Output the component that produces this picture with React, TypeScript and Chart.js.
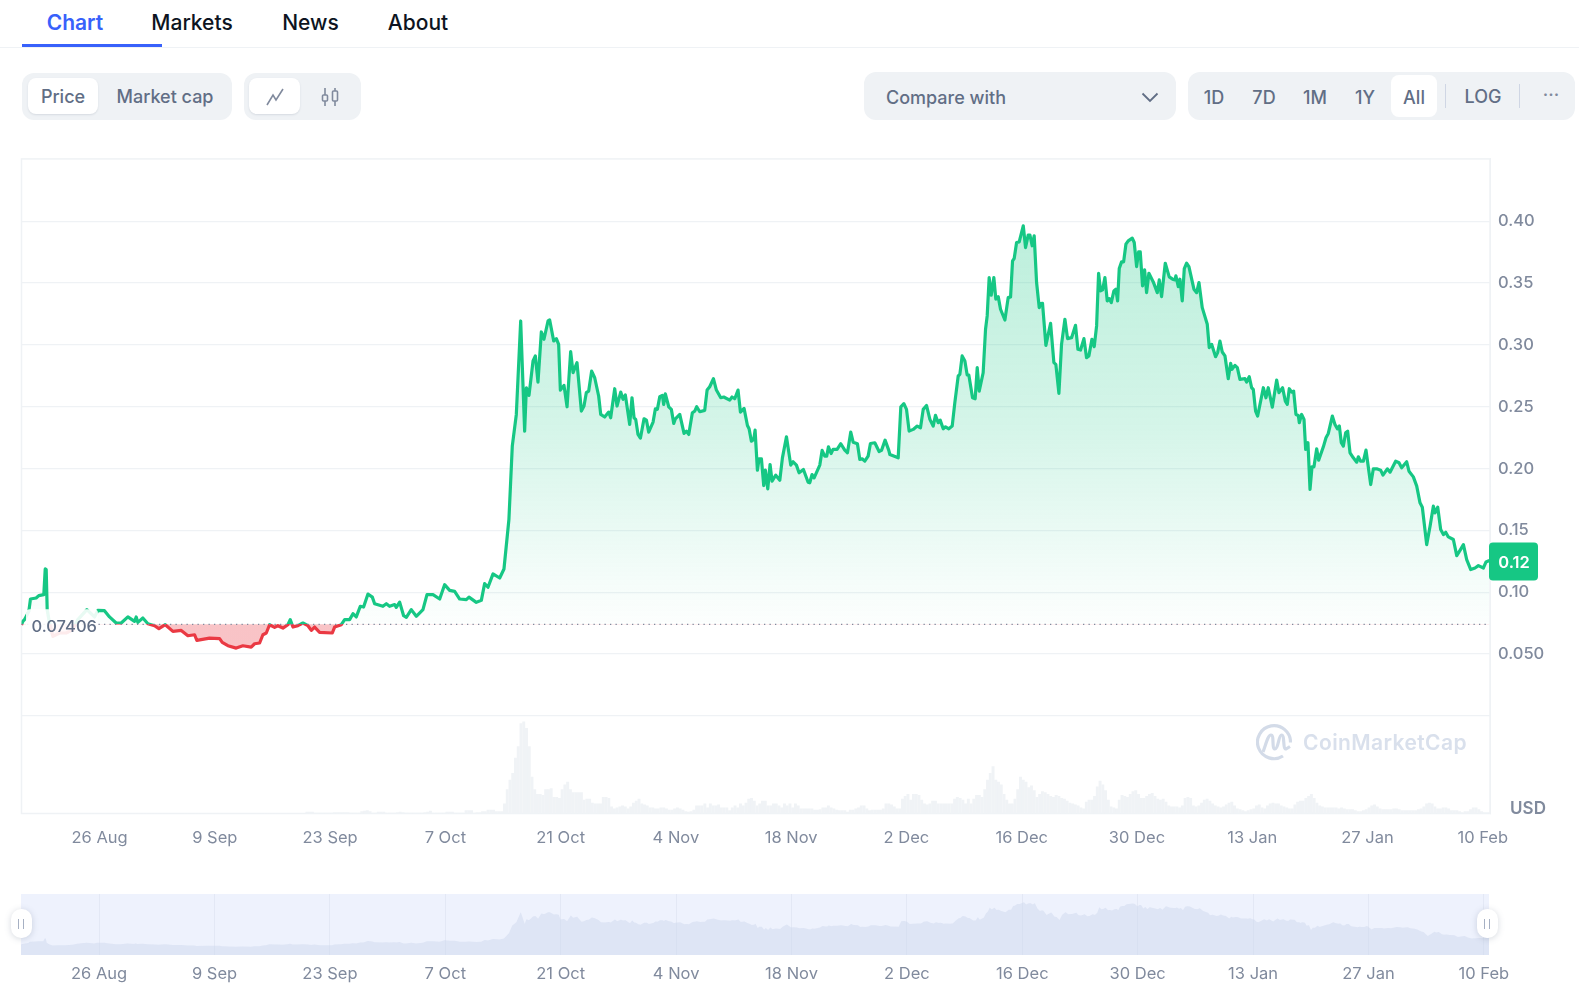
import React, { useEffect, useRef } from 'react';
import { Chart, registerables } from 'chart.js';

Chart.register(...registerables);

// days since 16 Aug, one entry for each price below
const priceDays = [
  0, 0.16, 0.36, 0.89, 1.09, 1.78, 2.1, 2.71, 2.88, 3.0, 3.12, 3.4, 3.81, 4.62, 5.43, 6.24, 6.84, 7.94, 8.87, 9.27,
  10.08, 10.69, 11.5, 12.11, 12.92, 13.73, 13.93, 14.13, 14.74, 15.35, 16.16, 16.69, 17.46, 18.39, 19.4, 20.21, 21.02, 21.3, 22.84, 24.06,
  24.38, 25.07, 26.08, 26.89, 27.9, 28.31, 28.92, 29.32, 29.73, 30.13, 30.74, 31.14, 31.75, 32.36, 32.64, 32.97, 33.57, 34.18, 34.79, 35.2,
  35.6, 36.21, 37.75, 38.03, 38.84, 39.25, 39.85, 40.26, 40.66, 41.15, 41.55, 42.08, 42.61, 42.89, 43.9, 44.31, 44.71, 45.32, 45.52, 45.93,
  46.41, 46.74, 47.34, 47.95, 48.76, 49.25, 49.98, 50.79, 51.39, 52.0, 52.61, 53.22, 54.03, 54.35, 55.24, 55.85, 56.25, 56.66, 57.27, 58.08,
  58.6, 59.2, 59.61, 60.1, 60.63, 61.11, 61.32, 61.64, 62.13, 62.41, 62.73, 63.14, 63.46, 63.95, 64.15, 64.64, 64.96, 65.24, 65.45, 65.89,
  66.26, 66.7, 66.99, 67.47, 68.0, 68.32, 68.6, 68.89, 69.25, 69.62, 70.1, 70.35, 70.83, 71.32, 71.56, 72.05, 72.33, 72.78, 73.06, 73.34,
  73.87, 74.15, 74.4, 74.6, 74.88, 75.17, 75.61, 75.9, 76.18, 76.71, 76.99, 77.23, 77.52, 77.84, 78.0, 78.2, 78.61, 78.93, 79.22, 79.42,
  79.95, 80.47, 80.76, 81.04, 81.48, 81.77, 82.01, 82.38, 82.98, 83.27, 83.59, 84.04, 84.4, 84.93, 85.29, 86.02, 86.3, 86.63, 87.03, 87.32,
  87.76, 88.17, 88.37, 88.65, 88.94, 89.1, 89.38, 89.58, 89.87, 90.15, 90.35, 90.64, 90.92, 91.16, 91.61, 92.1, 92.42, 92.91, 93.43, 93.72,
  94.12, 94.44, 94.97, 95.54, 95.74, 96.02, 96.27, 96.96, 97.24, 97.56, 97.8, 98.01, 98.33, 98.57, 99.06, 99.51, 99.99, 100.32, 100.72, 101.01,
  101.53, 101.82, 102.1, 102.42, 102.83, 103.11, 103.64, 104.16, 104.45, 104.89, 105.34, 105.47, 106.48, 106.8, 107.17, 107.49, 107.81, 108.3, 108.79, 109.19,
  109.52, 109.92, 110.33, 110.73, 111.01, 111.34, 111.58, 111.95, 112.23, 112.63, 113.04, 113.36, 113.77, 113.97, 114.25, 114.58, 114.86, 115.06, 115.51, 115.83,
  116.08, 116.32, 116.8, 117.09, 117.29, 117.53, 117.78, 118.1, 118.34, 118.63, 118.91, 119.44, 119.84, 120.13, 120.37, 120.57, 120.86, 121.18, 121.67, 121.95,
  122.27, 122.48, 122.76, 123.0, 123.29, 123.61, 123.77, 124.01, 124.42, 124.99, 125.39, 125.63, 126.0, 126.32, 126.73, 127.05, 127.54, 128.02, 128.31, 128.63,
  129.04, 129.36, 129.64, 130.01, 130.29, 130.58, 130.82, 131.06, 131.3, 131.59, 131.87, 132.11, 132.36, 132.68, 132.92, 133.13, 133.33, 133.61, 133.86, 134.14,
  134.42, 134.91, 135.15, 135.44, 135.68, 135.88, 136.16, 136.41, 136.65, 136.93, 137.46, 137.95, 138.19, 138.47, 138.92, 139.4, 139.81, 140.09, 140.21, 140.5,
  140.7, 140.98, 141.23, 141.51, 141.79, 142.4, 142.73, 143.01, 143.41, 144.02, 144.26, 144.55, 145.03, 145.28, 145.56, 145.84, 146.17, 146.57, 146.86, 147.02,
  147.38, 147.67, 147.99, 148.6, 148.8, 149.12, 149.41, 149.61, 149.89, 150.14, 150.83, 151.15, 151.43, 151.92, 152.45, 152.73, 153.17, 153.5, 153.74, 153.98,
  154.27, 154.51, 154.79, 155.08, 155.2, 155.48, 155.77, 155.97, 156.25, 156.5, 156.74, 156.98, 157.31, 157.55, 158.12, 158.44, 158.72, 159.21, 159.53, 159.82,
  160.06, 160.3, 160.55, 160.83, 161.07, 161.36, 161.76, 162.17, 162.37, 162.65, 162.98, 163.3, 163.87, 164.19, 164.6, 165.08, 165.36, 165.89, 166.22, 166.9,
  167.31, 167.63, 168.24, 168.52, 169.05, 169.46, 169.86, 170.14, 170.67, 171.08, 171.48, 171.68, 172.01, 172.37, 172.7, 172.98, 173.3, 173.91, 174.32, 174.72,
  175.13, 175.53, 176.02, 176.54, 176.95, 177.56, 177.88, 178.28,
];

const prices = [
  0.0735, 0.0764, 0.0778, 0.0845, 0.0945, 0.0953, 0.0972, 0.098, 0.1188, 0.1183, 0.0859, 0.0751, 0.0643, 0.067, 0.067, 0.0697, 0.0778, 0.0859, 0.08, 0.0853,
  0.0851, 0.08, 0.0751, 0.0751, 0.08, 0.0764, 0.08, 0.0756, 0.0791, 0.0745, 0.0729, 0.0705, 0.0737, 0.0683, 0.0691, 0.0648, 0.0656, 0.061, 0.0629, 0.0624,
  0.0594, 0.0567, 0.0548, 0.0567, 0.0556, 0.0583, 0.0589, 0.0656, 0.067, 0.0737, 0.0716, 0.0729, 0.071, 0.0737, 0.0778, 0.0718, 0.0729, 0.0751, 0.0729, 0.0691,
  0.0718, 0.0675, 0.067, 0.0718, 0.0737, 0.0778, 0.0778, 0.0826, 0.08, 0.0886, 0.088, 0.0985, 0.096, 0.0907, 0.0886, 0.0907, 0.0886, 0.09, 0.0877, 0.092,
  0.081, 0.0797, 0.0859, 0.0805, 0.0859, 0.098, 0.098, 0.0945, 0.1061, 0.1015, 0.1007, 0.0945, 0.094, 0.096, 0.0918, 0.0934, 0.1069, 0.104, 0.1148, 0.1115,
  0.1188, 0.1588, 0.2182, 0.2438, 0.3194, 0.2303, 0.2654, 0.2592, 0.287, 0.2911, 0.27, 0.3105, 0.3046, 0.3194, 0.3202, 0.3032, 0.3051, 0.3005, 0.2635, 0.2673,
  0.25, 0.2946, 0.2776, 0.2857, 0.2465, 0.2506, 0.2614, 0.2627, 0.2789, 0.2735, 0.2587, 0.2438, 0.2417, 0.2457, 0.2411, 0.2646, 0.2506, 0.2619, 0.256, 0.2595,
  0.2357, 0.2573, 0.2411, 0.2398, 0.2276, 0.2246, 0.2403, 0.2392, 0.2295, 0.2376, 0.2484, 0.2479, 0.2581, 0.2592, 0.2519, 0.2605, 0.25, 0.2479, 0.2365, 0.2403,
  0.2438, 0.2284, 0.2303, 0.2276, 0.2452, 0.2465, 0.25, 0.246, 0.2471, 0.2635, 0.2662, 0.2727, 0.2635, 0.2573, 0.2579, 0.2554, 0.2579, 0.2565, 0.2635, 0.2457,
  0.2487, 0.2349, 0.2322, 0.2222, 0.2236, 0.2311, 0.1987, 0.2079, 0.2079, 0.1863, 0.1987, 0.1836, 0.2033, 0.1898, 0.1947, 0.1906, 0.2087, 0.2257, 0.2028, 0.2055,
  0.2028, 0.1966, 0.1993, 0.189, 0.1885, 0.1952, 0.1925, 0.2028, 0.2147, 0.2101, 0.2101, 0.2176, 0.2122, 0.2155, 0.2155, 0.2201, 0.2149, 0.2128, 0.2295, 0.2214,
  0.2201, 0.2074, 0.2079, 0.206, 0.2101, 0.2203, 0.2209, 0.2138, 0.2147, 0.223, 0.2147, 0.2114, 0.2087, 0.25, 0.2525, 0.2479, 0.2303, 0.2317, 0.2344, 0.233,
  0.2479, 0.2511, 0.2398, 0.2344, 0.243, 0.2371, 0.2392, 0.2322, 0.2338, 0.2322, 0.2344, 0.2533, 0.2749, 0.2762, 0.2911, 0.287, 0.2757, 0.2757, 0.2573, 0.2565,
  0.2816, 0.2627, 0.2775, 0.3127, 0.3235, 0.3545, 0.3402, 0.3545, 0.337, 0.3391, 0.3289, 0.3202, 0.3383, 0.3389, 0.368, 0.3699, 0.3829, 0.3834, 0.3964, 0.3788,
  0.3888, 0.3888, 0.3802, 0.3883, 0.3505, 0.3302, 0.3334, 0.3337, 0.2997, 0.3175, 0.2857, 0.2843, 0.2608, 0.3005, 0.3208, 0.3051, 0.3059, 0.3159, 0.2965, 0.2959,
  0.3051, 0.2897, 0.2911, 0.3046, 0.2986, 0.3154, 0.358, 0.3437, 0.3445, 0.3545, 0.3356, 0.3375, 0.3343, 0.3437, 0.3451, 0.3356, 0.3618, 0.3672, 0.3672, 0.3815,
  0.3842, 0.3864, 0.3829, 0.3634, 0.3753, 0.3753, 0.3478, 0.3607, 0.3423, 0.358, 0.351, 0.3423, 0.3526, 0.3391, 0.3661, 0.3551, 0.3532, 0.3526, 0.3559, 0.3472,
  0.3532, 0.3356, 0.3618, 0.3661, 0.3634, 0.3451, 0.3423, 0.3505, 0.3302, 0.3167, 0.2978, 0.3005, 0.2905, 0.2938, 0.3032, 0.2943, 0.2911, 0.2727, 0.2851, 0.2803,
  0.2835, 0.2816, 0.2722, 0.2727, 0.27, 0.2743, 0.2654, 0.2641, 0.2465, 0.2425, 0.2654, 0.2573, 0.2654, 0.2497, 0.2716, 0.2614, 0.2654, 0.2546, 0.2519, 0.2646,
  0.2619, 0.2627, 0.2438, 0.243, 0.2371, 0.2438, 0.2398, 0.2155, 0.2209, 0.1831, 0.2014, 0.2014, 0.216, 0.2068, 0.2176, 0.2249, 0.2284, 0.2425, 0.2357, 0.2322,
  0.2344, 0.2209, 0.2182, 0.229, 0.2303, 0.2128, 0.2087, 0.2052, 0.2095, 0.206, 0.206, 0.2149, 0.1871, 0.1998, 0.1998, 0.1987, 0.1947, 0.1998, 0.1971, 0.206,
  0.2047, 0.2006, 0.2055, 0.1979, 0.1933, 0.1858, 0.1723, 0.1687, 0.1385, 0.1534, 0.1696, 0.1642, 0.1687, 0.1507, 0.1466, 0.1485, 0.1447, 0.1426, 0.1296, 0.1339,
  0.1385, 0.1264, 0.1183, 0.1196, 0.1215, 0.1196, 0.1245, 0.1256,
];

// one bar per 8 hours, in millions
const volumes = [
  0, 0, 0, 0, 0, 0, 0, 0, 0, 0, 0, 0, 0, 0, 0, 0, 0, 0, 0, 0, 0, 0, 0, 0, 0, 0, 0, 0, 0,
  0, 0, 0, 0, 0, 0, 0, 0, 0, 0, 0, 0, 0, 0, 0, 0, 0, 0, 0, 0, 0, 0, 0, 0, 0, 0, 0, 0, 0, 0,
  0, 0, 0, 0, 0, 0, 0, 0, 0, 0, 0, 0, 0, 0, 0, 0, 0, 0, 0, 0, 0, 0, 0, 0, 0, 0, 0, 0, 0, 0,
  0, 0, 0, 0, 0, 0, 0, 0, 0, 0, 0, 0, 0, 0, 0, 1.5, 1.5, 1.5, 0.5, 0.5, 0.5, 0.5, 0.5, 0.5, 0.5,
  1, 1, 1, 1, 1, 1, 0.5, 0.5, 0.5, 0.5, 2, 2.5, 3, 2, 0.5, 0.5, 1.5, 1.5, 1.5, 0.5, 0.5, 0.5, 0.5, 1, 1.5, 1,
  0.5, 0.5, 0.5, 0.5, 0.5, 0.5, 0.5, 1, 1.5, 2.5, 0.5, 0.5, 0.5, 0.5, 0.5, 1.5, 1.5, 1.5, 0.5, 0.5, 0.5, 0.5, 3, 3, 3, 0.5,
  1, 1, 2, 2, 3.5, 3.5, 3.5, 2, 2, 2, 10, 25, 35, 42, 58, 70, 94, 96, 89, 70, 38, 25, 20, 20, 19, 25, 25, 26, 17, 17, 16, 25, 30, 33, 25, 22, 22, 22, 22, 14, 15, 15, 11, 10, 10, 10, 17, 17, 16, 7, 5, 6, 7, 8, 7, 5, 7, 11, 13, 15, 10, 9, 8, 6, 6, 5, 5, 6, 6, 5, 3.5, 3.5, 5, 6, 5, 3.5, 2, 1.5, 2, 3.5,
  8, 8, 8, 10, 6, 10, 8, 8, 9, 6, 6, 6, 3, 6, 8, 6, 10, 8, 11, 15, 16, 13, 8, 10, 13, 13, 8, 8, 10, 10, 8, 6, 10, 8, 10, 6, 10, 8, 5, 5, 5, 5, 5, 3.5, 3.5, 4, 6, 6, 8, 6, 5, 3.5, 3, 3, 3, 1.5, 3.5, 3.5, 5, 6, 8, 8, 5, 3, 3.5, 3.5, 3.5, 3.5, 5, 10, 10, 9, 7, 5, 5,
  15, 18, 20, 14, 20, 20, 19, 14, 10, 9, 10, 13, 13, 10, 10, 10, 10, 10, 10, 15, 17, 16, 14, 10, 15, 10, 15, 19, 19, 17, 25, 35, 42, 49, 35, 33, 30, 20, 14, 10, 10, 15, 25, 38, 35, 33, 27, 29, 24, 17, 20,
  23, 22, 20, 18, 17, 19, 18, 16, 15, 13, 11, 10, 9, 8, 6, 5, 12, 14, 14, 18, 28, 34, 30, 24, 14, 7, 6, 5, 14, 19, 18, 17, 20, 23, 24, 20, 16, 16, 18, 20, 21, 18, 15, 14, 15, 12, 8, 7, 7, 7, 6, 8, 16, 17, 16, 8, 7, 8, 11, 14, 15, 13, 10, 8, 7, 6, 7, 9, 11, 12, 8, 5, 4, 3, 2, 3, 4, 5, 8, 9, 6, 5, 8, 10, 11, 10, 10, 8, 7, 6, 5, 5, 9, 12, 13, 13, 16, 18, 20, 16, 11, 8, 7, 6, 6, 6, 6, 6, 5, 6, 5, 4, 4, 4, 3, 2, 2, 3, 4, 6, 8, 9, 7, 5, 4, 4, 4, 4, 5, 5, 4, 3, 3, 3, 3, 3, 3, 4, 5, 7, 10, 11, 10, 7, 5, 5, 6, 6, 5, 3, 3, 3, 2, 1, 2, 2, 4, 6, 6, 4, 2, 1, 1, 1,
];

const tickDays = [9.48, 23.48, 37.48, 51.48, 65.48, 79.48, 93.48, 107.48, 121.48, 135.48, 149.48, 163.48, 177.48];
const tickLabels = ['26 Aug', '9 Sep', '23 Sep', '7 Oct', '21 Oct', '4 Nov', '18 Nov', '2 Dec', '16 Dec', '30 Dec', '13 Jan', '27 Jan', '10 Feb'];
const priceTicks = [0, 0.05, 0.1, 0.15, 0.2, 0.25, 0.3, 0.35, 0.4];
const priceTickLabels = ['', '0.050', '0.10', '0.15', '0.20', '0.25', '0.30', '0.35', '0.40'];

const baseline = 0.07406;
const lastPrice = '0.12';
const lastPriceValue = 0.1256;
const dayEnd = 178.36;
const navDayEnd = 178.1;

const UP = '#16c784';
const DOWN = '#ea3943';
const GRID = '#eff2f5';
const TICK = '#808a9d';
const FONT = 'Inter, sans-serif';

const pricePoints = priceDays.map((x, i) => ({ x, y: prices[i] }));
const volumePoints = volumes.map((v, i) => ({ x: i / 3, y: v }));

const text = (x: number, y: number, color: string, size: number, weight = 500): React.CSSProperties => ({
  position: 'absolute',
  left: x,
  top: y,
  transform: 'translate(-50%, -50%)',
  color,
  fontSize: size,
  fontWeight: weight,
  whiteSpace: 'nowrap',
});

const box = (x: number, y: number, w: number, h: number, bg: string, r: number, shadow?: boolean): React.CSSProperties => ({
  position: 'absolute',
  left: x,
  top: y,
  width: w,
  height: h,
  background: bg,
  borderRadius: r,
  boxShadow: shadow ? '0 1px 2px rgba(88,102,126,0.16)' : undefined,
});

const mainPlugin = {
  id: 'mainExtras',
  beforeDatasetsDraw(chart: any) {
    const { ctx, chartArea: a } = chart;
    ctx.save();
    ctx.strokeStyle = GRID;
    ctx.lineWidth = 1.5;
    ctx.strokeRect(a.left, a.top, a.right - a.left, a.bottom - a.top);
    ctx.restore();
  },
  afterDatasetsDraw(chart: any) {
    const { ctx, chartArea: a, scales } = chart;
    const by = scales.y.getPixelForValue(baseline);
    ctx.save();
    // dotted opening price
    ctx.strokeStyle = TICK;
    ctx.lineWidth = 1.2;
    ctx.setLineDash([1.3, 4.2]);
    ctx.beginPath();
    ctx.moveTo(a.left, by);
    ctx.lineTo(a.right, by);
    ctx.stroke();
    ctx.setLineDash([]);
    // opening price label
    ctx.fillStyle = 'rgba(255,255,255,0.9)';
    ctx.beginPath();
    ctx.roundRect(26, by - 15, 72, 30, 4);
    ctx.fill();
    ctx.fillStyle = '#616e85';
    ctx.font = `500 16.5px ${FONT}`;
    ctx.textAlign = 'left';
    ctx.textBaseline = 'middle';
    ctx.fillText(String(baseline), 31.5, by + 2.5);
    // last price tag
    const ty = scales.y.getPixelForValue(lastPriceValue);
    ctx.fillStyle = UP;
    ctx.beginPath();
    ctx.roundRect(a.right - 1, ty - 18, 49, 38, 4);
    ctx.fill();
    ctx.fillStyle = '#ffffff';
    ctx.font = `600 16.5px ${FONT}`;
    ctx.textAlign = 'center';
    ctx.fillText(lastPrice, a.right + 24, ty + 2);
    ctx.restore();
  },
};

const navPlugin = {
  id: 'navBackground',
  beforeDraw(chart: any) {
    const { ctx, chartArea: a } = chart;
    ctx.save();
    ctx.fillStyle = '#eef2fd';
    ctx.fillRect(a.left, a.top, a.right - a.left, a.bottom - a.top);
    ctx.restore();
  },
};

const lineColor = (c: any) => {
  const { chart } = c;
  const y = chart.scales.y;
  if (!chart.chartArea || !y) return UP;
  const g = chart.ctx.createLinearGradient(0, chart.chartArea.top, 0, chart.chartArea.bottom);
  const stop = (y.getPixelForValue(baseline) - chart.chartArea.top) / chart.chartArea.height;
  g.addColorStop(0, UP);
  g.addColorStop(stop, UP);
  g.addColorStop(stop, DOWN);
  g.addColorStop(1, DOWN);
  return g;
};

const fillColor = (c: any) => {
  const { chart } = c;
  const y = chart.scales.y;
  if (!chart.chartArea || !y) return 'rgba(22,199,132,0.1)';
  const { top, height, bottom } = chart.chartArea;
  const g = chart.ctx.createLinearGradient(0, top, 0, bottom);
  const stop = (y.getPixelForValue(baseline) - top) / height;
  g.addColorStop(0, 'rgba(22,199,132,0.32)');
  g.addColorStop(stop * 0.58, 'rgba(22,199,132,0.18)');
  g.addColorStop(stop * 0.92, 'rgba(22,199,132,0.04)');
  g.addColorStop(stop, 'rgba(22,199,132,0.01)');
  g.addColorStop(stop, 'rgba(234,57,67,0.3)');
  g.addColorStop(1, 'rgba(234,57,67,0.3)');
  return g;
};

const dateAxis = (labelPad: number, height: number, end: number) => ({
  type: 'linear' as const,
  min: 0,
  max: end,
  offset: false,
  afterBuildTicks: (scale: any) => {
    scale.ticks = tickDays.map((value) => ({ value }));
  },
  afterFit: (scale: any) => {
    scale.height = height;
  },
  ticks: {
    autoSkip: false,
    maxRotation: 0,
    padding: labelPad,
    color: TICK,
    font: { family: FONT, size: 16.5 },
    callback: (_: any, i: number) => tickLabels[i],
  },
});

const App: React.FC = () => {
  const mainRef = useRef<HTMLCanvasElement>(null);
  const navRef = useRef<HTMLCanvasElement>(null);

  useEffect(() => {
    if (!mainRef.current || !navRef.current) return;

    const main = new Chart(mainRef.current, {
      type: 'line',
      data: {
        datasets: [
          {
            type: 'line',
            data: pricePoints,
            borderWidth: 3.2,
            borderColor: lineColor,
            backgroundColor: fillColor,
            fill: { target: { value: baseline } },
            tension: 0,
            pointRadius: 0,
            borderJoinStyle: 'round',
            order: 1,
          },
          {
            type: 'bar',
            data: volumePoints,
            yAxisID: 'volume',
            backgroundColor: '#f0f3f6',
            barThickness: 2.3,
            order: 2,
          },
        ],
      } as any,
      options: {
        animation: false,
        responsive: false,
        layout: { padding: { left: 21.5, top: 8, right: 0, bottom: 0 } },
        plugins: { legend: { display: false }, tooltip: { enabled: false } },
        scales: {
          x: { ...dateAxis(7, 46.5, dayEnd), grid: { display: false, offset: false }, border: { display: false } },
          y: {
            type: 'linear',
            position: 'right',
            min: -0.079,
            max: 0.4505,
            afterBuildTicks: (scale: any) => {
              scale.ticks = priceTicks.map((value) => ({ value }));
            },
            afterFit: (scale: any) => {
              scale.width = 89;
            },
            grid: { color: GRID, lineWidth: 1.3, drawTicks: false },
            border: { color: GRID },
            ticks: {
              padding: 8,
              color: TICK,
              font: { family: FONT, size: 16.5, weight: 500 },
              callback: (_: any, i: number) => priceTickLabels[i],
            },
          },
          volume: { type: 'linear', display: false, min: 0, max: 685 },
        },
      } as any,
      plugins: [mainPlugin],
    });

    const nav = new Chart(navRef.current, {
      type: 'line',
      data: {
        datasets: [
          {
            data: pricePoints,
            borderWidth: 0,
            backgroundColor: 'rgba(205,216,238,0.5)',
            fill: 'start',
            tension: 0,
            pointRadius: 0,
          },
        ],
      },
      options: {
        animation: false,
        responsive: false,
        layout: { padding: { left: 21, top: 9, right: 90, bottom: 0 } },
        plugins: { legend: { display: false }, tooltip: { enabled: false } },
        scales: {
          x: { ...dateAxis(9, 50, navDayEnd), grid: { color: '#e3e8f5', drawTicks: false }, border: { display: false } },
          y: { type: 'linear', display: false, min: -0.008, max: 0.46 },
        },
      } as any,
      plugins: [navPlugin],
    });

    return () => {
      main.destroy();
      nav.destroy();
    };
  }, []);

  return (
    <div style={{ position: 'fixed', left: 0, top: 0, width: 1579, height: 1005, overflow: 'hidden', background: '#fff', fontFamily: FONT }}>
      {/* tabs */}
      <div style={text(75, 21.5, '#3861fb', 21, 600)}>Chart</div>
      <div style={text(192, 21.5, '#0d1421', 21)}>Markets</div>
      <div style={text(310.5, 21.5, '#0d1421', 21)}>News</div>
      <div style={text(418, 21.5, '#0d1421', 21)}>About</div>
      <div style={box(0, 47, 1579, 1, GRID, 0)} />
      <div style={box(22, 44, 140, 3, '#3861fb', 0)} />

      {/* price / market cap */}
      <div style={box(22, 73, 210, 47, GRID, 12)} />
      <div style={box(28, 78, 70, 36, '#fff', 8, true)} />
      <div style={text(63, 95.5, '#616e85', 18)}>Price</div>
      <div style={text(165, 95.5, '#616e85', 18)}>Market cap</div>

      {/* line / candle */}
      <div style={box(244, 73, 117, 47, GRID, 12)} />
      <div style={box(249, 78, 51, 36, '#fff', 8, true)} />
      <svg style={{ position: 'absolute', left: 265, top: 87 }} width="20" height="20" viewBox="0 0 20 20" fill="none" stroke={TICK} strokeWidth="1.6">
        <path d="M2 18 L8 8 L11 13 L18 2" />
      </svg>
      <svg style={{ position: 'absolute', left: 320, top: 86 }} width="20" height="22" viewBox="0 0 20 22" fill="none" stroke={TICK} strokeWidth="1.6">
        <path d="M5 2 V20 M15 2 V20" />
        <rect x="2.5" y="9" width="5" height="6" rx="1" fill={GRID} />
        <rect x="12.5" y="5" width="5" height="10" rx="1" fill={GRID} />
      </svg>

      {/* compare */}
      <div style={box(864, 72, 312, 48, GRID, 12)} />
      <div style={text(946, 96.5, '#616e85', 18)}>Compare with</div>
      <svg style={{ position: 'absolute', left: 1141, top: 92 }} width="18" height="11" viewBox="0 0 18 11" fill="none" stroke="#616e85" strokeWidth="1.8">
        <path d="M1.5 1.5 L9 9 L16.5 1.5" />
      </svg>

      {/* ranges */}
      <div style={box(1188, 72, 387, 48, GRID, 12)} />
      <div style={box(1391, 75, 46, 42, '#fff', 8)} />
      <div style={text(1214, 96.5, '#616e85', 18)}>1D</div>
      <div style={text(1264, 96.5, '#616e85', 18)}>7D</div>
      <div style={text(1315, 96.5, '#616e85', 18)}>1M</div>
      <div style={text(1365, 96.5, '#616e85', 18)}>1Y</div>
      <div style={text(1414, 96.5, '#616e85', 18)}>All</div>
      <div style={box(1445, 84, 1, 24, '#cfd6e4', 0)} />
      <div style={text(1483, 95.5, '#616e85', 18)}>LOG</div>
      <div style={box(1519, 84, 1, 24, '#cfd6e4', 0)} />
      <div style={text(1551, 94, '#808a9d', 18)}>···</div>

      <canvas ref={mainRef} width={1579} height={719} style={{ position: 'absolute', left: 0, top: 141 }} />
      <canvas ref={navRef} width={1579} height={120} style={{ position: 'absolute', left: 0, top: 885 }} />

      {/* watermark */}
      <svg style={{ position: 'absolute', left: 1256, top: 724 }} width="36" height="37" viewBox="0 0 36 37" fill="none" stroke="#d3dbe8" strokeWidth="3.2">
        <path d="M27 32 A16.5 16.5 0 1 1 34.5 18.5" />
        <path d="M7 28 C10 20 12 11 15 11 C18.5 11 15.5 25 19 25 C22.5 25 22.5 11 25.5 11 C29 11 26.5 25 30 25 L34 22.5" />
      </svg>
      <div style={{ ...text(1385, 742, '#d9e0ec', 21, 600), letterSpacing: 0.4 }}>CoinMarketCap</div>
      <div style={text(1528, 808, TICK, 17, 600)}>USD</div>

      {/* navigator handles */}
      <div style={{ ...box(11, 909, 21, 29, '#fff', 10), boxShadow: '0 1px 6px rgba(88,102,126,0.25)' }} />
      <div style={box(18, 919, 1, 10, '#a6b0c3', 0)} />
      <div style={box(23, 919, 1, 10, '#a6b0c3', 0)} />
      <div style={{ ...box(1477, 909, 21, 29, '#fff', 10), boxShadow: '0 1px 6px rgba(88,102,126,0.25)' }} />
      <div style={box(1484, 919, 1, 10, '#a6b0c3', 0)} />
      <div style={box(1489, 919, 1, 10, '#a6b0c3', 0)} />
    </div>
  );
};

export default App;
